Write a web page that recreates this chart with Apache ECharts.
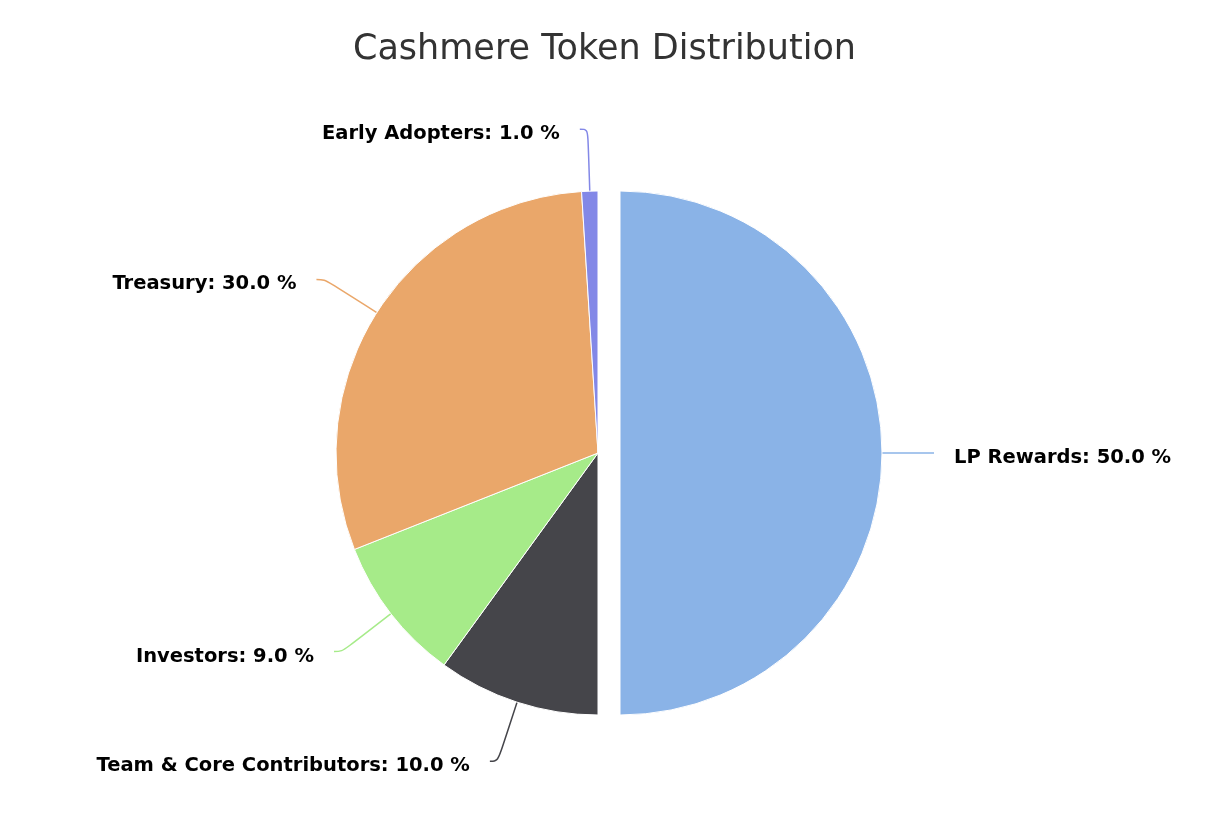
<!DOCTYPE html>
<html>
<head>
<meta charset="utf-8">
<script src="https://cdn.jsdelivr.net/npm/echarts@6/dist/echarts.min.js"></script>
<style>
  html, body { margin: 0; padding: 0; background: #fff; }
  #chart { width: 1209px; height: 822px; }
</style>
</head>
<body>
<div id="chart"></div>
<script>
const titleText = 'Cashmere Token Distribution';
const categories = ['LP Rewards', 'Team & Core Contributors', 'Investors', 'Treasury', 'Early Adopters'];
const shares = [50, 10, 9, 30, 1];
const colors = ['#8AB3E7', '#45454A', '#A6EB89', '#EAA76A', '#8388E7'];
const slicedIndex = 0;

const chart = echarts.init(document.getElementById('chart'), null, { renderer: 'canvas' });
const data = categories.map((name, i) => {
  const item = {
    name: name,
    value: shares[i],
    selected: i === slicedIndex,
    itemStyle: { color: colors[i] }
  };
  if (i === slicedIndex) item.labelLine = { length: 44, length2: 8 };
  return item;
});

chart.setOption({
  animation: false,
  backgroundColor: '#ffffff',
  title: {
    text: titleText,
    left: 'center',
    top: 27,
    textStyle: { fontFamily: 'DejaVu Sans', fontSize: 35, fontWeight: 'normal', color: '#333333' }
  },
  series: [{
    type: 'pie',
    center: [598, 453],
    radius: 262,
    startAngle: 90,
    clockwise: true,
    selectedMode: 'single',
    selectedOffset: 22,
    avoidLabelOverlap: true,
    itemStyle: { borderColor: '#ffffff', borderWidth: 1 },
    label: {
      show: true,
      color: '#000000',
      fontFamily: 'DejaVu Sans',
      fontWeight: 'bold',
      fontSize: 19.5,
      distanceToLabelLine: 20,
      formatter: p => p.name + ': ' + p.value.toFixed(1) + ' %'
    },
    labelLayout: { dy: 5 },
    labelLine: { show: true, length: 62, length2: 8, smooth: 0.4, lineStyle: { width: 1.5 } },
    emphasis: { disabled: true },
    data: data
  }]
});
</script>
</body>
</html>
